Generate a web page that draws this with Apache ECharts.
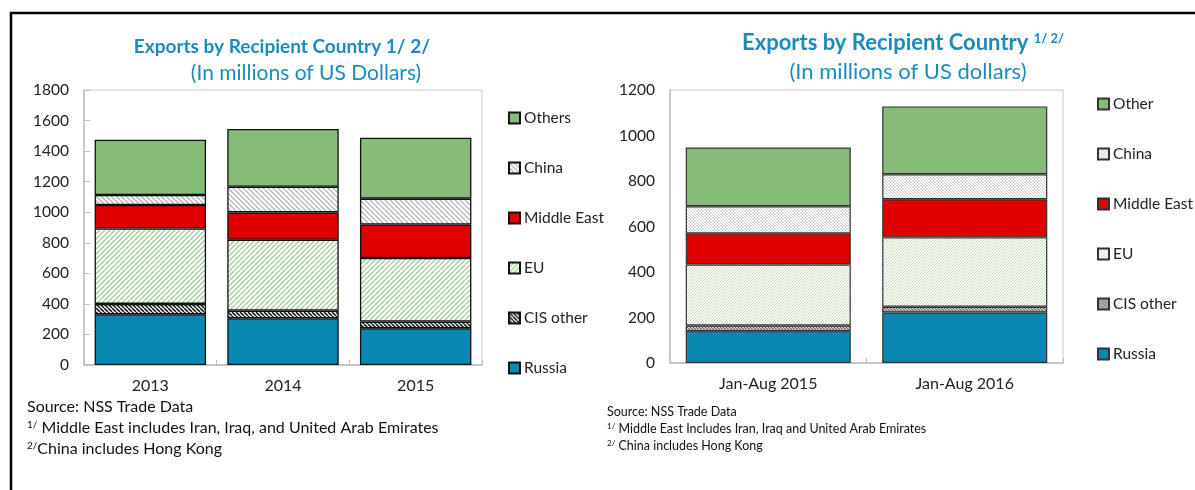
<!DOCTYPE html>
<html>
<head>
<meta charset="utf-8">
<script src="https://cdn.jsdelivr.net/npm/echarts@6/dist/echarts.min.js"></script>
<style>
html,body{margin:0;padding:0;background:#fff}
#main{width:1195px;height:490px}
</style>
</head>
<body>
<div id="main"></div>
<script>
// left chart: annual
var yearsA = ['2013', '2014', '2015'];
var russiaA = [332, 306, 241];
var cisA = [68, 50, 43];
var euA = [494, 464, 416];
var meA = [153, 179, 220];
var chinaA = [66, 168, 169];
var othersA = [362, 378, 398];
var yTicksA = [0, 200, 400, 600, 800, 1000, 1200, 1400, 1600, 1800];

// right chart: Jan-Aug
var periodsB = ['Jan-Aug 2015', 'Jan-Aug 2016'];
var russiaB = [140, 222];
var cisB = [25, 25];
var euB = [268, 305];
var meB = [137, 168];
var chinaB = [119, 110];
var otherB = [258, 298];
var yTicksB = [0, 200, 400, 600, 800, 1000, 1200];

var FONT = 'Lato';
var BLUE = '#1a8bbd';

//斜线填充
function hatch(fg, bg, size, lw, dir) {
	var c = document.createElement('canvas');
	c.width = c.height = size;
	var g = c.getContext('2d');
	g.fillStyle = bg;
	g.fillRect(0, 0, size, size);
	g.strokeStyle = fg;
	g.lineWidth = lw;
	g.beginPath();
	for (var k = -1; k <= 1; k++) {
		if (dir == '/') {
			g.moveTo(k * size, size);
			g.lineTo(k * size + size, 0);
		} else {
			g.moveTo(k * size, 0);
			g.lineTo(k * size + size, size);
		}
	}
	g.stroke();
	return { image: c, repeat: 'repeat' };
}

var styleA = {
	russia: '#0a89b0',
	cis: hatch('#222', '#fff', 4, 1.6, '\\'),
	eu: hatch('#9fcf95', '#fff', 5, 1.4, '/'),
	me: '#e00000',
	china: hatch('#b5b5b5', '#fff', 5, 1.4, '\\'),
	others: '#86bb78'
};
var styleB = {
	russia: '#0a89b0',
	cis: hatch('#555', '#eee', 3, 1.2, '\\'),
	eu: hatch('#bfe0b5', '#fff', 3, 1, '/'),
	me: '#e00000',
	china: hatch('#c4c4c4', '#fff', 3, 1, '\\'),
	others: '#86bb78'
};

function bar(name, data, color, idx, bw, bc) {
	return {
		name: name,
		type: 'bar',
		stack: 'tot' + idx,
		xAxisIndex: idx,
		yAxisIndex: idx,
		barCategoryGap: '16%',
		data: data,
		itemStyle: { color: color, borderColor: bc, borderWidth: bw }
	};
}

var myChart = echarts.init(document.getElementById('main'));

function xAx(idx, data) {
	return {
		type: 'category',
		gridIndex: idx,
		data: data,
		axisLine: { lineStyle: { color: '#bfbfbf', width: 1.5 } },
		axisTick: { show: true, inside: true, length: 5, lineStyle: { color: '#bfbfbf' } },
		axisLabel: { color: '#222', fontSize: 16, fontFamily: FONT, margin: 13 }
	};
}
function yAx(idx, ticks, showTick) {
	return {
		type: 'value',
		gridIndex: idx,
		min: ticks[0],
		max: ticks[ticks.length - 1],
		interval: ticks[1] - ticks[0],
		axisLine: { show: true, lineStyle: { color: '#bfbfbf', width: 1.5 } },
		axisTick: { show: showTick, inside: true, length: 6, lineStyle: { color: '#bfbfbf' } },
		splitLine: { show: false },
		axisLabel: { color: '#222', fontSize: 15.5, fontFamily: FONT, margin: 15, formatter: function (v) { return String(v); } }
	};
}
function leg(left, top, names) {
	return {
		orient: 'vertical',
		left: left,
		top: top,
		padding: 0,
		itemWidth: 11,
		itemHeight: 11,
		itemGap: 34,
		icon: 'rect',
		selectedMode: false,
		data: names,
		formatter: function (n) { return n.split(':')[1]; },
		textStyle: { color: '#222', fontSize: 15.5, fontFamily: FONT, padding: [0, 0, 0, -1] }
	};
}

var option = {
	animation: false,
	grid: [
		{ left: 84, top: 90, width: 398, height: 275, show: true, borderColor: '#c8c8c8', borderWidth: 1 },
		{ left: 670, top: 90, width: 393, height: 273, show: true, borderColor: '#c8c8c8', borderWidth: 1 }
	],
	xAxis: [xAx(0, yearsA), xAx(1, periodsB)],
	yAxis: [yAx(0, yTicksA, true), yAx(1, yTicksB, false)],
	legend: [
		leg(508, 110, ['A:Others', 'A:China', 'A:Middle East', 'A:EU', 'A:CIS other', 'A:Russia']),
		leg(1097, 96, ['B:Other', 'B:China', 'B:Middle East', 'B:EU', 'B:CIS other', 'B:Russia'])
	],
	series: [
		bar('A:Russia', russiaA, styleA.russia, 0, 1.3, '#111'),
		bar('A:CIS other', cisA, styleA.cis, 0, 1.3, '#111'),
		bar('A:EU', euA, styleA.eu, 0, 1.3, '#111'),
		bar('A:Middle East', meA, styleA.me, 0, 1.3, '#111'),
		bar('A:China', chinaA, styleA.china, 0, 1.3, '#111'),
		bar('A:Others', othersA, styleA.others, 0, 1.3, '#111'),
		bar('B:Russia', russiaB, styleB.russia, 1, 1.2, '#333'),
		bar('B:CIS other', cisB, styleB.cis, 1, 1.2, '#333'),
		bar('B:EU', euB, styleB.eu, 1, 1.2, '#333'),
		bar('B:Middle East', meB, styleB.me, 1, 1.2, '#333'),
		bar('B:China', chinaB, styleB.china, 1, 1.2, '#333'),
		bar('B:Other', otherB, styleB.others, 1, 1.2, '#333')
	],
	graphic: [
		//外框
		{ type: 'polyline', shape: { points: [[11, 490], [11, 13], [1195, 13]] }, style: { stroke: '#000', lineWidth: 2.5, fill: null } },
		{ type: 'text', x: 282, y: 47, style: { text: 'Exports by Recipient Country 1/ 2/', fill: BLUE, font: 'bold 19px ' + FONT, textAlign: 'center', textVerticalAlign: 'middle' } },
		{ type: 'text', x: 306, y: 73, style: { text: '(In millions of US Dollars)', fill: BLUE, font: '21px ' + FONT, textAlign: 'center', textVerticalAlign: 'middle' } },
		{ type: 'text', x: 742, y: 43, style: {
			text: 'Exports by Recipient Country {s|1/ 2/}', fill: BLUE, font: 'bold 22px ' + FONT, textVerticalAlign: 'middle',
			rich: { s: { fontSize: 13, fontWeight: 'bold', fontFamily: FONT, fill: BLUE, verticalAlign: 'top', padding: [0, 0, 9, 0] } }
		} },
		{ type: 'text', x: 908, y: 72, style: { text: '(In millions of US dollars)', fill: BLUE, font: '22px ' + FONT, textAlign: 'center', textVerticalAlign: 'middle' } },
		//左边注释
		{ type: 'text', x: 27, y: 407, style: { text: 'Source: NSS Trade Data', fill: '#111', font: '16px ' + FONT, textVerticalAlign: 'middle' } },
		{ type: 'text', x: 27, y: 428, style: {
			text: '{s|1/} Middle East includes Iran, Iraq, and United Arab Emirates', fill: '#111', font: '16px ' + FONT, textVerticalAlign: 'middle',
			rich: { s: { fontSize: 10, fontFamily: FONT, fill: '#111', verticalAlign: 'top', padding: [0, 0, 6, 0] } }
		} },
		{ type: 'text', x: 27, y: 449, style: {
			text: '{s|2/}China includes Hong Kong', fill: '#111', font: '16px ' + FONT, textVerticalAlign: 'middle',
			rich: { s: { fontSize: 10, fontFamily: FONT, fill: '#111', verticalAlign: 'top', padding: [0, 0, 6, 0] } }
		} },
		//右边注释
		{ type: 'text', x: 607, y: 412, style: { text: 'Source: NSS Trade Data', fill: '#111', font: '12.5px ' + FONT, textVerticalAlign: 'middle' } },
		{ type: 'text', x: 607, y: 429, style: {
			text: '{s|1/} Middle East Includes Iran, Iraq and United Arab Emirates', fill: '#111', font: '12.5px ' + FONT, textVerticalAlign: 'middle',
			rich: { s: { fontSize: 8, fontFamily: FONT, fill: '#111', verticalAlign: 'top', padding: [0, 0, 5, 0] } }
		} },
		{ type: 'text', x: 607, y: 446, style: {
			text: '{s|2/} China includes Hong Kong', fill: '#111', font: '12.5px ' + FONT, textVerticalAlign: 'middle',
			rich: { s: { fontSize: 8, fontFamily: FONT, fill: '#111', verticalAlign: 'top', padding: [0, 0, 5, 0] } }
		} }
	]
};
myChart.setOption(option);
</script>
</body>
</html>
